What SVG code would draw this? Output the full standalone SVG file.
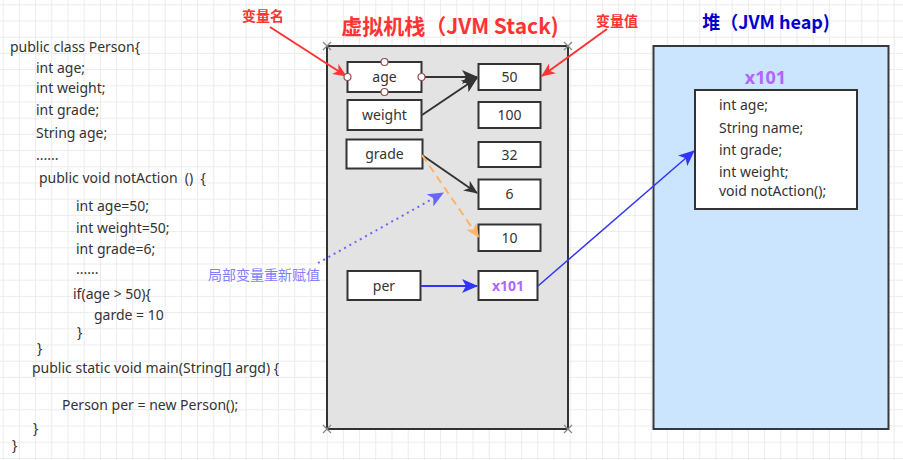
<svg xmlns="http://www.w3.org/2000/svg" width="903" height="460" viewBox="0 0 903 460">
<style>
.code{font-family:"Noto Sans","Liberation Sans","Noto Sans CJK SC",sans-serif;font-size:14px;fill:#333}
.box{fill:#fff;stroke:#333;stroke-width:2}
.lbl{font-family:"Noto Sans","Liberation Sans","Noto Sans CJK SC",sans-serif;font-size:14px;fill:#333;text-anchor:middle}
.red{font-family:"Noto Sans CJK SC","Noto Sans",sans-serif;font-size:14px;font-weight:bold;fill:#ff3333;text-anchor:middle}
.purple{font-family:"Noto Sans","Liberation Sans",sans-serif;font-weight:bold;fill:#b266ff;text-anchor:middle}
.handle{fill:#fff;stroke:#994c4c;stroke-width:1.2}
.corner{stroke:#888;stroke-width:1.2}
</style>
<defs>
<pattern id="grid" patternUnits="userSpaceOnUse" x="2.7" y="4.3" width="16.2" height="16.2">
<path d="M0.5,0 V16.2 M0,0.5 H16.2" stroke="#ebebeb" stroke-width="1" fill="none"/>
</pattern>
<marker id="ahDark" viewBox="0 0 16 14" refX="15" refY="7" markerWidth="16" markerHeight="14" markerUnits="userSpaceOnUse" orient="auto"><path d="M0,0 L16,7 L0,14 L4,7 z" fill="#333"/></marker>
<marker id="ahDarkS" viewBox="0 0 14 12" refX="13" refY="6" markerWidth="14" markerHeight="12" markerUnits="userSpaceOnUse" orient="auto"><path d="M0,0 L14,6 L0,12 L4,6 z" fill="#333"/></marker>
<marker id="ahOrange" viewBox="0 0 14 12" refX="13" refY="6" markerWidth="14" markerHeight="12" markerUnits="userSpaceOnUse" orient="auto"><path d="M0,0 L14,6 L0,12 L4,6 z" fill="#ffb366"/></marker>
<marker id="ahBlue" viewBox="0 0 16 14" refX="15" refY="7" markerWidth="16" markerHeight="14" markerUnits="userSpaceOnUse" orient="auto"><path d="M0,0 L16,7 L0,14 L4,7 z" fill="#3333ff"/></marker>
<marker id="ahLav" viewBox="0 0 16 14" refX="15" refY="7" markerWidth="16" markerHeight="14" markerUnits="userSpaceOnUse" orient="auto"><path d="M0,0 L16,7 L0,14 L4,7 z" fill="#6666ff"/></marker>
<marker id="ahRed" viewBox="0 0 14 12" refX="13" refY="6" markerWidth="14" markerHeight="12" markerUnits="userSpaceOnUse" orient="auto"><path d="M0,0 L14,6 L0,12 L4,6 z" fill="#ff3333"/></marker>
</defs>
<rect x="0" y="0" width="903" height="460" fill="#fff"/>
<rect x="0" y="0" width="903" height="460" fill="url(#grid)"/>

<g id="code">
<text class="code" x="10" y="52">public class Person{</text>
<text class="code" x="36" y="73">int age;</text>
<text class="code" x="36" y="93">int weight;</text>
<text class="code" x="36" y="115">int grade;</text>
<text class="code" x="36" y="138">String age;</text>
<text class="code" x="36" y="160">......</text>
<text class="code" x="39" y="183" xml:space="preserve">public void notAction  ()  {</text>
<text class="code" x="76" y="211">int age=50;</text>
<text class="code" x="76" y="233">int weight=50;</text>
<text class="code" x="76" y="254">int grade=6;</text>
<text class="code" x="76" y="274">......</text>
<text class="code" x="73" y="299">if(age &gt; 50){</text>
<text class="code" x="94" y="320">garde = 10</text>
<text class="code" x="77" y="337">}</text>
<text class="code" x="37" y="353">}</text>
<text class="code" x="32" y="373">public static void main(String[] argd) {</text>
<text class="code" x="62" y="410">Person per = new Person();</text>
<text class="code" x="33" y="433">}</text>
<text class="code" x="12" y="450">}</text>
</g>

<g id="stack">
<rect x="327" y="46" width="241" height="383" fill="#e3e3e3" stroke="#333" stroke-width="2"/>
<path class="corner" d="M323,42 L331,50 M331,42 L323,50 M564,42 L572,50 M572,42 L564,50 M323,425 L331,433 M331,425 L323,433 M564,425 L572,433 M572,425 L564,433"/>
<text x="450" y="34" text-anchor="middle" font-family="Noto Sans CJK SC,Noto Sans,sans-serif" font-size="21" font-weight="bold" fill="#ff3333">虚拟机栈（JVM Stack)</text>
</g>

<g id="heap">
<rect x="653.5" y="46" width="235" height="383" fill="#cce5ff" stroke="#36393d" stroke-width="2"/>
<text x="766" y="29" text-anchor="middle" font-family="Noto Sans CJK SC,Noto Sans,sans-serif" font-size="18" font-weight="bold" fill="#0000cc">堆（JVM heap)</text>
<text class="purple" x="765.5" y="84" font-size="18">x101</text>
</g>

<g id="heap-object">
<rect x="695" y="90" width="162" height="119" fill="#fff" stroke="#333" stroke-width="2"/>
<text class="code" x="719" y="110">int age;</text>
<text class="code" x="719" y="133">String name;</text>
<text class="code" x="719" y="155">int grade;</text>
<text class="code" x="719" y="177">int weight;</text>
<text class="code" x="719" y="196">void notAction();</text>
</g>

<g id="var-age"><rect class="box" x="347.5" y="62" width="74" height="30"/><text class="lbl" x="384.5" y="82">age</text></g>
<g id="var-weight"><rect class="box" x="347.5" y="100" width="74" height="30"/><text class="lbl" x="384.5" y="120">weight</text></g>
<g id="var-grade"><rect class="box" x="346.5" y="139.5" width="76" height="29"/><text class="lbl" x="384.5" y="159">grade</text></g>
<g id="var-per"><rect class="box" x="347.5" y="271" width="73" height="29"/><text class="lbl" x="384" y="291">per</text></g>

<g id="val-50"><rect class="box" x="478.5" y="64" width="62" height="26"/><text class="lbl" x="509.5" y="82">50</text></g>
<g id="val-100"><rect class="box" x="478.5" y="102" width="62" height="26"/><text class="lbl" x="509.5" y="120">100</text></g>
<g id="val-32"><rect class="box" x="478.5" y="142" width="62" height="25"/><text class="lbl" x="509.5" y="160">32</text></g>
<g id="val-6"><rect class="box" x="478.5" y="179.5" width="62" height="29.5"/><text class="lbl" x="509.5" y="199">6</text></g>
<g id="val-10"><rect class="box" x="478.5" y="224.5" width="62" height="26.5"/><text class="lbl" x="509.5" y="243">10</text></g>
<g id="val-x101"><rect class="box" x="478.5" y="271" width="59" height="29"/><text class="purple" x="508" y="291" font-size="14">x101</text></g>

<g id="label-name"><text class="red" x="263" y="21">变量名</text></g>
<g id="label-value"><text class="red" x="617" y="26">变量值</text></g>
<g id="label-reassign"><text x="264" y="280" text-anchor="middle" font-family="Noto Sans CJK SC,Noto Sans,sans-serif" font-size="14" fill="#7f7fff">局部变量重新赋值</text></g>

<g id="connectors" fill="none">
<line x1="422" y1="77" x2="477" y2="77" stroke="#333" stroke-width="2" marker-end="url(#ahDark)"/>
<line x1="422" y1="115" x2="477" y2="78" stroke="#333" stroke-width="2" marker-end="url(#ahDark)"/>
<line x1="422" y1="155" x2="477" y2="193" stroke="#333" stroke-width="2" marker-end="url(#ahDarkS)"/>
<line x1="422" y1="155" x2="478.5" y2="237" stroke="#ffb366" stroke-width="2" stroke-dasharray="8,5" marker-end="url(#ahOrange)"/>
<line x1="421" y1="286" x2="477" y2="286" stroke="#3333ff" stroke-width="2" marker-end="url(#ahBlue)"/>
<line x1="538" y1="286" x2="694" y2="151" stroke="#3333ff" stroke-width="1.5" marker-end="url(#ahBlue)"/>
<line x1="318" y1="263" x2="443" y2="193" stroke="#6666ff" stroke-width="2" stroke-dasharray="2,4" marker-end="url(#ahLav)"/>
<line x1="270" y1="27" x2="346" y2="76" stroke="#ff3333" stroke-width="2" marker-end="url(#ahRed)"/>
<line x1="607" y1="29" x2="542" y2="76" stroke="#ff3333" stroke-width="2" marker-end="url(#ahRed)"/>
</g>

<g id="age-handles">
<circle class="handle" cx="347.5" cy="77" r="3.5"/>
<circle class="handle" cx="421.5" cy="77" r="3.5"/>
<circle class="handle" cx="384.5" cy="62" r="3.5"/>
<circle class="handle" cx="384.5" cy="92" r="3.5"/>
</g>
</svg>
